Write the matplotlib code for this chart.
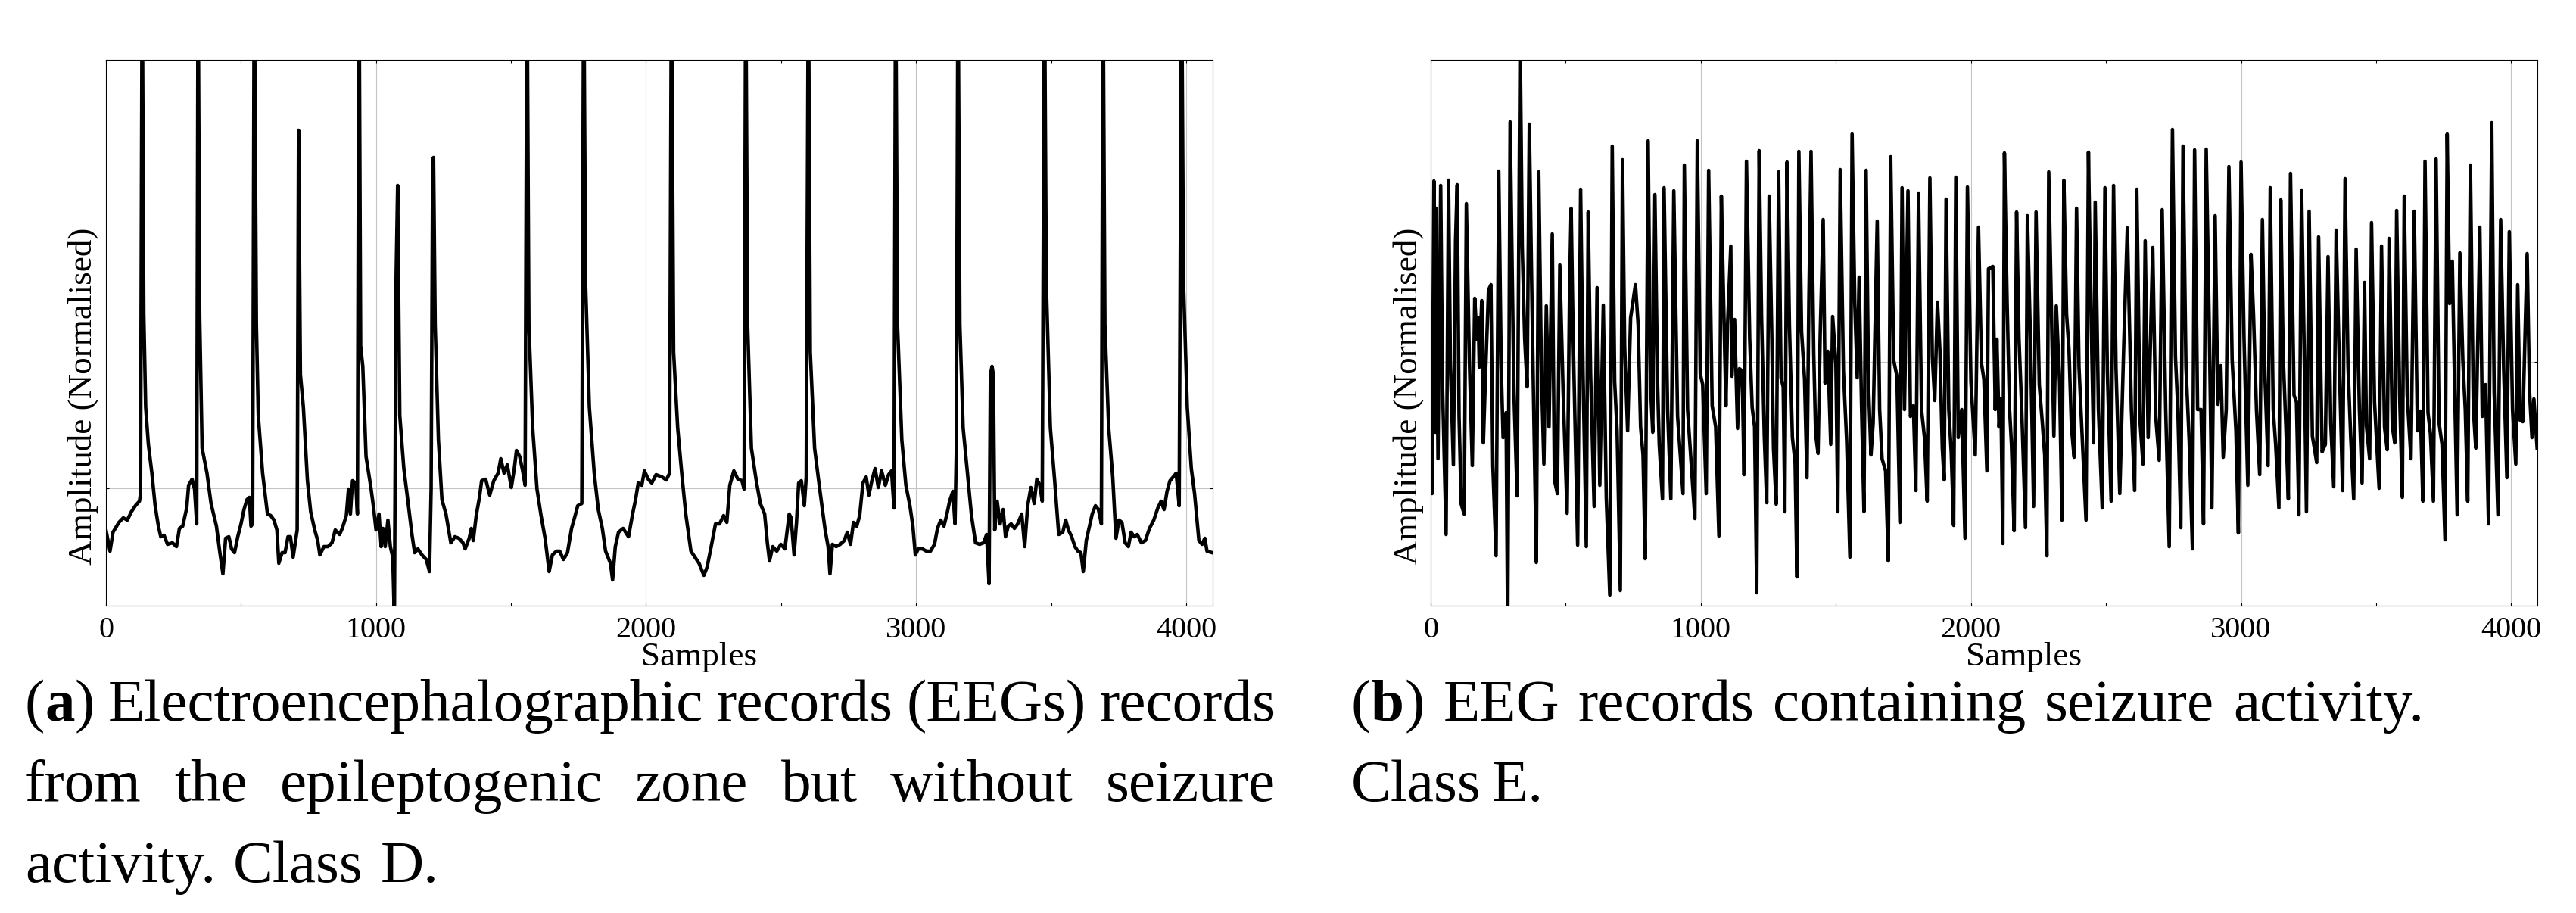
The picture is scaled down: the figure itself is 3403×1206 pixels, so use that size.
import matplotlib
matplotlib.use("Agg")
import matplotlib.pyplot as plt
from matplotlib.transforms import IdentityTransform

# ---------------- data ----------------
# Panel (a): Class D EEG (normalised amplitude)
class_d_samples = [
    0, 15, 26, 48, 64, 79, 94, 109, 124, 128, 134, 140, 147, 157, 170, 182, 194, 203, 215, 228,
    246, 261, 272, 284, 291, 299, 306, 319, 328, 336, 341, 347, 356, 374, 389, 409, 421, 433, 443, 455,
    465, 476, 488, 500, 511, 522, 531, 537, 543, 549, 557, 564, 580, 598, 610, 622, 633, 640, 652, 663,
    674, 683, 693, 708, 713, 720, 731, 746, 758, 773, 784, 792, 807, 822, 837, 849, 865, 875, 890, 898,
    905, 913, 925, 931, 937, 943, 951, 963, 981, 991, 1000, 1011, 1019, 1026, 1034, 1044, 1053, 1062, 1068, 1074,
    1080, 1088, 1103, 1118, 1133, 1143, 1155, 1170, 1186, 1198, 1204, 1209, 1213, 1219, 1231, 1244, 1259, 1269, 1277, 1292,
    1307, 1322, 1330, 1345, 1353, 1360, 1371, 1383, 1391, 1406, 1421, 1436, 1452, 1462, 1474, 1486, 1501, 1512, 1520, 1532,
    1543, 1552, 1559, 1566, 1580, 1596, 1611, 1626, 1641, 1653, 1668, 1680, 1694, 1709, 1724, 1735, 1747, 1762, 1769, 1776,
    1790, 1808, 1823, 1838, 1850, 1868, 1876, 1886, 1898, 1915, 1935, 1950, 1961, 1971, 1984, 1994, 2008, 2021, 2037, 2059,
    2075, 2087, 2094, 2102, 2117, 2132, 2147, 2166, 2181, 2196, 2214, 2226, 2241, 2257, 2272, 2287, 2299, 2310, 2325, 2340,
    2355, 2363, 2369, 2376, 2390, 2408, 2423, 2439, 2449, 2457, 2469, 2484, 2499, 2514, 2530, 2537, 2548, 2557, 2565, 2575,
    2586, 2593, 2601, 2608, 2624, 2639, 2651, 2663, 2674, 2681, 2690, 2704, 2719, 2734, 2745, 2757, 2768, 2780, 2791, 2803,
    2815, 2825, 2836, 2848, 2860, 2872, 2886, 2898, 2909, 2918, 2924, 2931, 2947, 2962, 2977, 2988, 2997, 3008, 3023, 3038,
    3053, 3068, 3079, 3091, 3103, 3114, 3124, 3136, 3144, 3149, 3155, 3162, 3174, 3190, 3205, 3220, 3235, 3250, 3261, 3270,
    3275, 3281, 3286, 3291, 3300, 3311, 3322, 3331, 3341, 3352, 3364, 3376, 3391, 3402, 3413, 3425, 3437, 3447, 3458, 3467,
    3475, 3482, 3497, 3513, 3528, 3543, 3554, 3564, 3576, 3588, 3599, 3610, 3619, 3630, 3640, 3652, 3664, 3675, 3686, 3692,
    3699, 3713, 3728, 3740, 3751, 3762, 3774, 3786, 3796, 3807, 3819, 3834, 3849, 3864, 3880, 3895, 3907, 3918, 3929, 3940,
    3952, 3963, 3974, 3983, 3990, 4004, 4019, 4031, 4047, 4059, 4069, 4077, 4096,
]
class_d_amplitude = [
    -0.55, -0.83, -0.58, -0.45, -0.39, -0.42, -0.31, -0.23, -0.17, -0.07, 7.0, 2.30, 1.07, 0.58, 0.20, -0.23, -0.50, -0.64, -0.62, -0.74,
    -0.72, -0.77, -0.53, -0.50, -0.39, -0.26, 0.04, 0.12, -0.01, -0.47, 7.0, 2.26, 0.53, 0.20, -0.20, -0.50, -0.83, -1.13, -0.66, -0.64,
    -0.80, -0.85, -0.64, -0.47, -0.28, -0.15, -0.12, -0.50, -0.47, 7.0, 2.16, 0.96, 0.20, -0.34, -0.36, -0.42, -0.55, -0.99, -0.85, -0.85,
    -0.64, -0.64, -0.91, -0.55, 4.73, 1.50, 1.07, 0.10, -0.31, -0.55, -0.69, -0.88, -0.77, -0.77, -0.72, -0.55, -0.61, -0.53, -0.36, -0.01,
    -0.34, 0.10, 0.07, -0.34, 7.0, 1.88, 1.61, 0.42, 0.01, -0.26, -0.55, -0.34, -0.77, -0.53, -0.77, -0.42, -0.77, -0.91, -1.75, 2.70,
    4.00, 0.96, 0.26, -0.17, -0.61, -0.85, -0.80, -0.88, -0.94, -1.10, -0.01, 3.78, 4.37, 2.16, 0.64, -0.15, -0.34, -0.55, -0.72, -0.64,
    -0.66, -0.72, -0.80, -0.66, -0.53, -0.69, -0.36, -0.12, 0.10, 0.12, -0.09, 0.10, 0.20, 0.39, 0.20, 0.31, 0.01, 0.26, 0.50, 0.42,
    0.23, 0.04, 7.0, 2.16, 0.80, -0.01, -0.36, -0.66, -1.10, -0.88, -0.83, -0.83, -0.94, -0.85, -0.53, -0.39, -0.23, -0.20, 7.0, 2.70,
    1.07, 0.20, -0.28, -0.53, -0.83, -0.99, -1.21, -0.77, -0.58, -0.53, -0.64, -0.34, -0.15, 0.07, 0.04, 0.23, 0.12, 0.07, 0.18, 0.15,
    0.11, 0.20, 7.0, 1.80, 0.80, 0.20, -0.34, -0.83, -0.91, -0.99, -1.15, -1.04, -0.77, -0.47, -0.47, -0.36, -0.45, 0.04, 0.23, 0.12,
    0.10, -0.01, 7.0, 2.16, 0.53, 0.10, -0.20, -0.34, -0.72, -0.96, -0.77, -0.83, -0.74, -0.80, -0.34, -0.39, -0.88, -0.45, 0.07, 0.10,
    -0.23, 0.15, 7.0, 1.80, 0.53, 0.10, -0.23, -0.55, -0.77, -1.13, -0.74, -0.77, -0.74, -0.69, -0.58, -0.74, -0.45, -0.50, -0.36, 0.07,
    0.15, -0.09, 0.10, 0.26, 0.01, 0.23, 0.04, 0.18, 0.23, -0.26, 7.0, 2.16, 0.64, 0.04, -0.23, -0.50, -0.88, -0.80, -0.80, -0.83,
    -0.83, -0.74, -0.53, -0.42, -0.50, -0.34, -0.17, -0.04, -0.47, 0.53, 7.0, 2.16, 0.80, 0.20, -0.36, -0.72, -0.74, -0.72, -0.61, -1.26,
    1.50, 1.61, 1.50, -0.55, -0.17, -0.47, -0.28, -0.64, -0.50, -0.47, -0.53, -0.47, -0.34, -0.77, -0.23, 0.01, -0.20, 0.12, 0.04, -0.17,
    7.0, 2.70, 0.80, 0.10, -0.61, -0.58, -0.42, -0.55, -0.64, -0.77, -0.83, -0.85, -1.10, -0.69, -0.53, -0.34, -0.23, -0.28, -0.47, 7.0,
    2.16, 0.80, 0.15, -0.66, -0.42, -0.45, -0.72, -0.77, -0.58, -0.64, -0.61, -0.72, -0.69, -0.53, -0.42, -0.26, -0.17, -0.28, -0.04, 0.10,
    0.15, 0.20, -0.23, 7.0, 2.70, 1.07, 0.26, -0.07, -0.69, -0.74, -0.66, -0.83, -0.85,
]

# Panel (b): Class E EEG (normalised amplitude)
class_e_samples = [
    0, 5, 12, 17, 20, 27, 37, 44, 57, 66, 73, 84, 92, 98, 105, 113, 124, 132, 143, 154,
    163, 171, 176, 180, 189, 195, 203, 214, 223, 230, 242, 252, 261, 268, 279, 285, 294, 308, 320, 331,
    339, 348, 357, 365, 374, 382, 391, 400, 410, 419, 428, 438, 450, 458, 469, 478, 490, 505, 514, 520,
    527, 544, 555, 564, 576, 583, 592, 605, 616, 626, 639, 650, 663, 672, 681, 690, 702, 710, 718, 729,
    740, 758, 768, 777, 786, 794, 805, 814, 822, 830, 840, 846, 858, 864, 877, 889, 900, 914, 934, 939,
    951, 978, 987, 998, 1007, 1020, 1029, 1042, 1055, 1067, 1076, 1084, 1093, 1099, 1111, 1115, 1125, 1136, 1143, 1153,
    1160, 1169, 1181, 1190, 1199, 1207, 1216, 1225, 1235, 1244, 1253, 1263, 1269, 1279, 1288, 1297, 1305, 1311, 1319, 1328,
    1339, 1349, 1356, 1363, 1373, 1384, 1393, 1400, 1408, 1418, 1425, 1434, 1442, 1453, 1460, 1470, 1481, 1488, 1500, 1507,
    1516, 1528, 1540, 1552, 1560, 1570, 1579, 1586, 1595, 1604, 1612, 1621, 1630, 1638, 1653, 1662, 1671, 1684, 1694, 1703,
    1714, 1726, 1737, 1745, 1754, 1767, 1776, 1787, 1796, 1806, 1817, 1828, 1838, 1848, 1857, 1866, 1876, 1885, 1894, 1901,
    1908, 1918, 1927, 1936, 1944, 1953, 1966, 1978, 1987, 2000, 2016, 2028, 2039, 2048, 2059, 2065, 2081, 2090, 2096, 2104,
    2111, 2118, 2124, 2134, 2143, 2150, 2160, 2169, 2178, 2188, 2202, 2209, 2220, 2232, 2241, 2253, 2264, 2273, 2281, 2288,
    2298, 2307, 2316, 2328, 2337, 2344, 2354, 2363, 2372, 2382, 2391, 2400, 2412, 2426, 2435, 2444, 2454, 2460, 2472, 2486,
    2496, 2505, 2519, 2528, 2537, 2551, 2566, 2579, 2594, 2606, 2614, 2626, 2637, 2645, 2656, 2673, 2684, 2697, 2708, 2721,
    2734, 2746, 2757, 2766, 2777, 2785, 2796, 2808, 2820, 2828, 2839, 2852, 2861, 2871, 2883, 2892, 2904, 2914, 2925, 2934,
    2945, 2955, 2967, 2981, 2990, 3000, 3011, 3025, 3037, 3046, 3057, 3069, 3079, 3088, 3100, 3108, 3119, 3128, 3140, 3147,
    3156, 3166, 3175, 3183, 3196, 3205, 3214, 3224, 3233, 3242, 3252, 3264, 3280, 3287, 3300, 3312, 3322, 3332, 3343, 3352,
    3364, 3376, 3385, 3396, 3406, 3417, 3426, 3438, 3448, 3457, 3464, 3476, 3483, 3494, 3511, 3520, 3531, 3541, 3548, 3560,
    3569, 3576, 3587, 3597, 3604, 3615, 3629, 3641, 3653, 3664, 3673, 3681, 3692, 3701, 3712, 3722, 3733, 3744, 3755, 3763,
    3772, 3782, 3791, 3800, 3810, 3821, 3830, 3839, 3849, 3860, 3869, 3884, 3893, 3905, 3916, 3928, 3937, 3951, 3961, 3972,
    3984, 3993, 4005, 4017, 4024, 4033, 4043, 4059, 4068, 4077, 4084, 4096,
]
class_e_amplitude = [
    0.10, -1.74, 2.39, -0.93, 2.03, -1.28, 2.33, -0.35, -2.28, 2.40, -0.02, -1.36, 1.60, 2.34, -0.72, -1.88, -2.01, 2.09, 0.05, -1.37,
    0.84, 0.30, 0.58, -0.07, 0.81, -1.07, -0.16, 0.95, 1.02, -1.37, -2.56, 2.52, -0.07, -1.00, -0.67, -3.60, 3.17, -0.40, -1.77, 4.30,
    1.51, 0.30, -0.33, 3.14, 1.00, -0.77, -2.65, 2.51, -0.16, -1.35, 0.74, -0.86, 1.69, -1.56, -1.74, 1.28, -0.37, -2.00, 0.95, 2.03,
    0.40, -2.42, 2.28, -0.16, -2.44, 1.98, -0.16, -1.91, 0.98, -1.63, 0.75, -1.79, -3.08, 2.85, -0.26, -0.91, -3.02, 2.67, 0.21, -0.91,
    0.58, 1.02, 0.49, -0.86, -1.23, -2.60, 2.92, -0.33, -0.93, 2.21, -0.30, -1.09, -1.81, 2.30, -0.63, -1.81, 2.26, -0.72, -1.74, 2.60,
    -0.63, -2.07, 2.92, -0.16, -0.30, -1.74, 2.53, -0.58, -0.86, -2.30, 2.19, 0.86, -0.58, 0.49, 1.53, -0.19, 0.56, -0.88, -0.09, -0.12,
    -1.49, 2.65, 0.30, -0.60, -0.86, -3.05, 2.79, 0.58, -0.98, -1.86, 2.19, 0.30, -1.14, -1.88, 2.51, -0.21, -0.33, -1.98, 2.64, 0.49,
    -1.00, -1.33, -2.84, 2.78, 0.40, -0.23, -1.53, 0.81, 2.78, 0.12, -0.95, -1.21, 0.37, 1.88, -0.28, 0.14, -1.09, 0.60, -0.02, -1.98,
    2.54, -0.12, -1.05, -2.58, 3.01, 0.77, -0.21, 1.12, -0.58, -1.98, 2.53, -0.33, -1.23, -0.81, 1.86, -0.63, -1.28, -1.44, -2.63, 2.71,
    0.02, -0.19, -2.12, 2.30, -0.63, 2.26, -0.72, -0.58, -1.70, 2.23, -0.63, -1.00, -1.84, 2.43, 0.07, -0.51, 0.79, 0.16, -1.14, -1.56,
    2.15, -0.63, -1.19, -2.16, 2.44, -1.00, -0.63, -2.33, 2.31, -0.26, -1.23, 1.78, -0.02, -0.23, -1.44, 1.23, 1.26, -0.63, 0.30, -0.86,
    -0.49, -2.40, 2.76, 0.77, -0.63, -1.09, -2.23, 1.98, 0.30, -0.63, -2.19, 1.93, 0.33, -1.91, 1.98, -0.30, -0.79, -1.23, -2.56, 2.51,
    0.67, -0.98, 0.74, -0.26, -2.09, 2.40, 0.63, 0.16, -0.86, -1.26, 2.03, -0.07, -1.00, -2.09, 2.77, 0.77, -1.07, 2.11, -0.63, -1.93,
    2.30, -0.12, -1.84, 2.33, -0.09, -1.74, 0.26, 1.77, -0.63, -1.70, 2.28, -0.79, -1.35, 1.60, -1.00, 1.51, -0.72, -1.30, 2.01, -0.63,
    -2.44, 3.07, 0.07, -0.63, -2.19, 2.85, -0.07, -1.05, -2.47, 2.80, -0.63, -0.63, -2.14, 2.81, 0.30, -1.93, 1.93, -0.56, -0.05, -1.26,
    -0.63, 2.58, 0.02, -0.91, -2.26, 2.64, 0.30, -1.63, 1.42, 0.63, -0.63, -1.49, 1.88, -0.16, -1.37, 2.30, -0.63, -1.09, -1.93, 2.14,
    0.07, -0.86, -1.81, 2.49, -0.44, -0.53, -2.02, 2.27, 0.30, -1.98, 1.99, -0.98, -1.33, 1.65, -1.19, -1.09, 1.39, -0.81, -1.65, 1.74,
    -0.07, -1.70, 2.42, -0.07, -1.00, -1.81, 1.49, -0.63, -1.60, 1.05, -0.84, -1.28, 1.84, -0.53, -1.67, 1.53, -0.86, -1.16, 1.63, -0.86,
    -1.07, 2.00, -0.44, -1.79, 2.19, -0.44, -1.28, 1.99, -0.91, -0.65, -1.84, 2.65, -0.67, -0.95, -1.84, 2.68, -0.81, -1.09, -2.35, 3.01,
    0.77, 1.33, -0.40, -2.02, 1.44, 0.02, -0.63, -1.84, 2.60, -0.63, -1.14, 1.78, -0.72, -0.30, -2.14, 3.16, -0.40, -2.02, 1.88, -0.07,
    -1.53, 1.72, -0.63, -1.35, 1.02, -0.77, -0.79, 1.43, -0.40, -1.00, -0.49, -1.14,
]

x_major_ticks = [0, 1000, 2000, 3000, 4000]
x_minor_ticks = [500, 1500, 2500, 3500]
x_label = "Samples"
y_label = "Amplitude (Normalised)"

caption_a_lines = [
    [[("(", "normal"), ("a", "bold"), (")", "normal")], [("Electroencephalographic", "normal")],
     [("records", "normal")], [("(EEGs)", "normal")], [("records", "normal")]],
    [[("from", "normal")], [("the", "normal")], [("epileptogenic", "normal")], [("zone", "normal")],
     [("but", "normal")], [("without", "normal")], [("seizure", "normal")]],
    [[("activity.", "normal")], [("Class", "normal")], [("D.", "normal")]],
]
caption_b_lines = [
    [[("(", "normal"), ("b", "bold"), (")", "normal")], [("EEG", "normal")], [("records", "normal")],
     [("containing", "normal")], [("seizure", "normal")], [("activity.", "normal")]],
    [[("Class", "normal")], [("E.", "normal")]],
]

# ---------------- layout ----------------
W, H = 3403, 1206
FONT = ["Liberation Serif", "DejaVu Serif"]
plt.rcParams["font.family"] = FONT

fig = plt.figure(figsize=(W / 100, H / 100), dpi=100)
fig.patch.set_facecolor("white")

ax_top, ax_bot = 79, 800
panels = [
    (140, 1601.6, class_d_samples, class_d_amplitude, (-1.55, 5.66)),
    (1890, 3352, class_e_samples, class_e_amplitude, (-3.22, 3.99)),
]
axes = []
for left, right, xs, ys, ylim in panels:
    ax = fig.add_axes([left / W, (H - ax_bot) / H, (right - left) / W, (ax_bot - ax_top) / H])
    ax.plot(xs, ys, color="black", lw=3.3)
    ax.set_xlim(0, 4097)
    ax.set_ylim(*ylim)
    ax.set_xticks(x_major_ticks)
    ax.set_xticklabels([str(v) for v in x_major_ticks])
    ax.set_xticks(x_minor_ticks, minor=True)
    ax.set_yticks([0])
    ax.set_yticklabels([])
    ax.grid(True, which="major", color="#c4c4c4", lw=0.8)
    ax.tick_params(which="both", direction="in", top=True, right=True, length=3, width=0.8,
                   labelsize=29, pad=10)
    for sp in ax.spines.values():
        sp.set_linewidth(0.8)
    for lab in ax.get_xticklabels():
        lab.set_family(FONT)
    axes.append(ax)

ident = IdentityTransform()
# axis labels
for cx, base_x in [(924, 121), (2674, 1872)]:
    fig.text(cx, H - 879, x_label, fontsize=32.5, ha="center", va="baseline", transform=ident)
    fig.text(base_x, H - 523, y_label, fontsize=32.5, rotation=90, rotation_mode="anchor",
             ha="center", va="baseline", transform=ident)

# captions (justified lines)
renderer = fig.canvas.get_renderer()
CAP_SIZE = 57


def draw_line(words, x_left, x_right, baseline):
    objs, widths = [], []
    for word in words:
        segs, total = [], 0.0
        for txt, wt in word:
            t = fig.text(0, 0, txt, fontsize=CAP_SIZE, fontweight=wt, ha="left", va="baseline",
                         transform=ident)
            wd = t.get_window_extent(renderer).width
            segs.append((t, wd))
            total += wd
        objs.append(segs)
        widths.append(total)
    gap = (x_right - x_left - sum(widths)) / (len(words) - 1) if len(words) > 1 else 0
    x = x_left
    for segs, total in zip(objs, widths):
        xx = x
        for t, wd in segs:
            t.set_position((xx, H - baseline))
            xx += wd
        x += total + gap


baselines = [952, 1058, 1165]
extents_a = [(33, 1685), (33, 1685), (33, 580)]
extents_b = [(1785, 3202), (1785, 2039)]
for words, (x0, x1), bl in zip(caption_a_lines, extents_a, baselines):
    draw_line(words, x0, x1, bl)
for words, (x0, x1), bl in zip(caption_b_lines, extents_b, baselines):
    draw_line(words, x0, x1, bl)

fig.savefig("out.png", dpi=100, facecolor="white")
